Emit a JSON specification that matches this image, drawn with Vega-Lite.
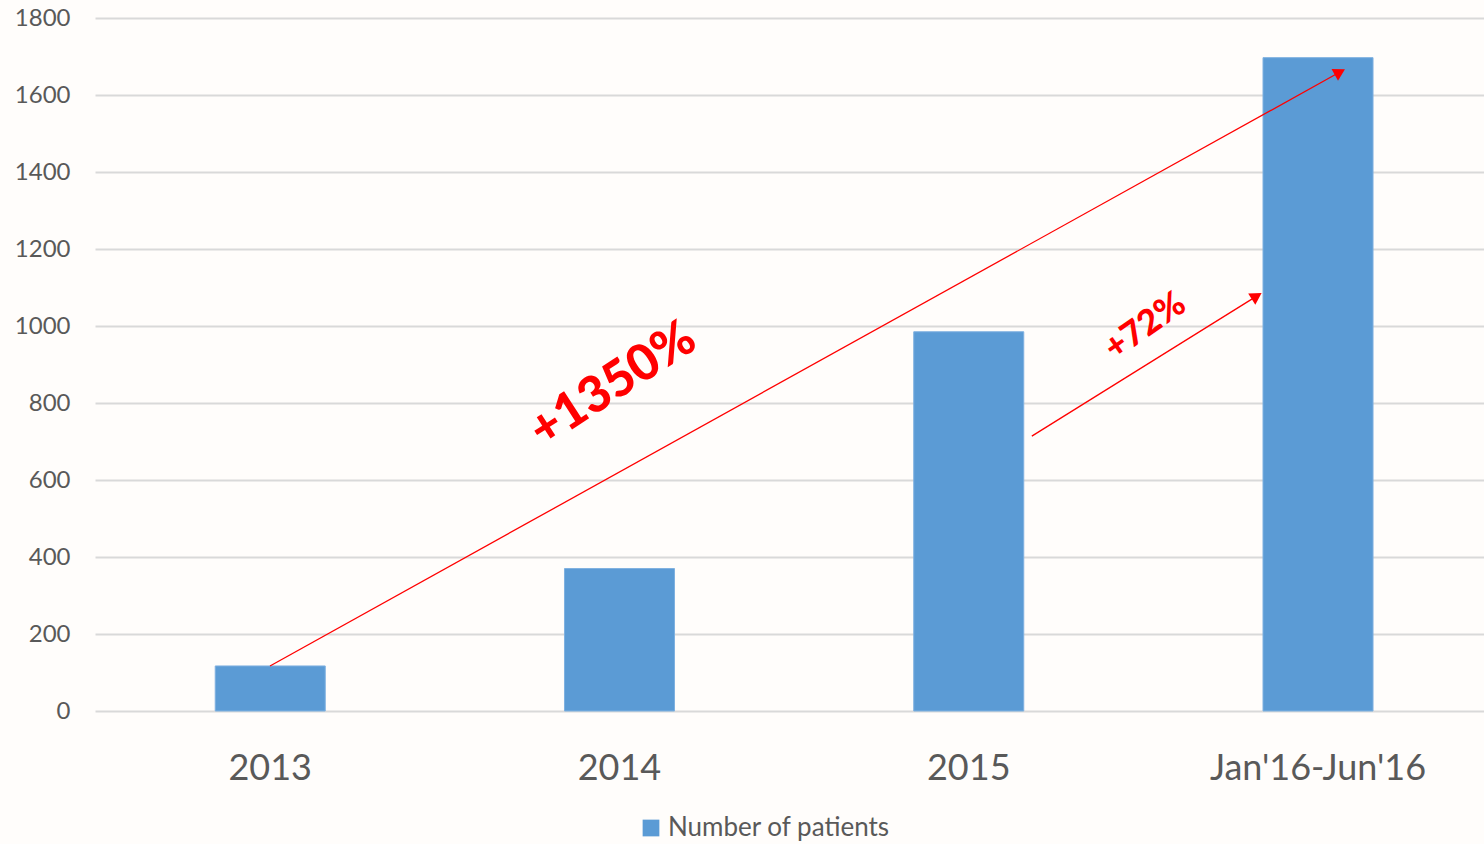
{
  "$schema": "https://vega.github.io/schema/vega-lite/v6.json",
  "autosize": {"type": "none"},
  "width": 1389,
  "height": 693,
  "padding": {"left": 95, "top": 18, "right": 0, "bottom": 133},
  "background": "#fffdfb",
  "config": {
    "view": {"stroke": null},
    "font": "Lato",
    "axis": {"labelColor": "#595959", "labelFont": "Lato"},
    "legend": {"labelColor": "#595959", "labelFont": "Lato"}
  },
  "datasets": {
    "bars": [
      {"period": "2013", "patients": 117, "series": "Number of patients"},
      {"period": "2014", "patients": 370, "series": "Number of patients"},
      {"period": "2015", "patients": 985, "series": "Number of patients"},
      {"period": "Jan'16-Jun'16", "patients": 1697, "series": "Number of patients"}
    ],
    "arrows": [
      {"name": "total", "x1": 0, "y1": 117, "x2": 3.058, "y2": 1657},
      {"name": "last", "x1": 2.181, "y1": 714, "x2": 2.82, "y2": 1075}
    ],
    "labels": [
      {"name": "total", "label": "+1350%", "x": 0.982, "y": 847},
      {"name": "last", "label": "+72%", "x": 2.505, "y": 1000}
    ]
  },
  "resolve": {"scale": {"x": "independent"}},
  "layer": [
    {
      "data": {"name": "bars"},
      "mark": {"type": "bar", "stroke": "#7fb1e0", "strokeWidth": 1},
      "encoding": {
        "x": {
          "field": "period", "type": "nominal", "sort": null,
          "scale": {"paddingInner": 0.685, "paddingOuter": 0.331, "align": 0.52},
          "axis": {"title": null, "labelAngle": 0, "labelFontSize": 36, "labelPadding": 40, "labelLimit": 500, "domain": false, "ticks": false, "grid": false}
        },
        "y": {
          "field": "patients", "type": "quantitative",
          "scale": {"domain": [0, 1800], "nice": false},
          "axis": {"title": null, "format": "d", "values": [0, 200, 400, 600, 800, 1000, 1200, 1400, 1600, 1800], "labelFontSize": 24, "labelPadding": 25, "domain": false, "ticks": false, "gridColor": "#d9d9d9", "gridWidth": 2}
        },
        "color": {
          "field": "series", "type": "nominal",
          "scale": {"range": ["#5b9bd5"]},
          "legend": {"title": null, "orient": "none", "legendX": 543, "legendY": 797, "direction": "horizontal", "symbolType": "square", "symbolSize": 280, "symbolStrokeWidth": 0, "labelFontSize": 26, "labelLimit": 500}
        }
      }
    },
    {
      "data": {"name": "arrows"},
      "mark": {"type": "rule", "color": "#ff0000", "strokeWidth": 1.3},
      "encoding": {
        "x": {"field": "x1", "type": "quantitative", "scale": {"domain": [-0.501, 3.4755], "nice": false, "zero": false}, "axis": null},
        "y": {"field": "y1", "type": "quantitative"},
        "x2": {"field": "x2"},
        "y2": {"field": "y2"}
      }
    },
    {
      "data": {"name": "arrows"},
      "transform": [{"filter": "datum.name === 'total'"}],
      "mark": {"type": "point", "shape": "triangle", "filled": true, "color": "#ff0000", "size": 180, "opacity": 1, "angle": 61},
      "encoding": {
        "x": {"field": "x2", "type": "quantitative", "scale": {"domain": [-0.501, 3.4755], "nice": false, "zero": false}, "axis": null},
        "y": {"field": "y2", "type": "quantitative"}
      }
    },
    {
      "data": {"name": "arrows"},
      "transform": [{"filter": "datum.name === 'last'"}],
      "mark": {"type": "point", "shape": "triangle", "filled": true, "color": "#ff0000", "size": 180, "opacity": 1, "angle": 58},
      "encoding": {
        "x": {"field": "x2", "type": "quantitative", "scale": {"domain": [-0.501, 3.4755], "nice": false, "zero": false}, "axis": null},
        "y": {"field": "y2", "type": "quantitative"}
      }
    },
    {
      "data": {"name": "labels"},
      "transform": [{"filter": "datum.name === 'total'"}],
      "mark": {"type": "text", "color": "#ff0000", "fontWeight": 900, "fontSize": 50, "angle": -33, "align": "center", "baseline": "middle"},
      "encoding": {
        "x": {"field": "x", "type": "quantitative", "scale": {"domain": [-0.501, 3.4755], "nice": false, "zero": false}, "axis": null},
        "y": {"field": "y", "type": "quantitative"},
        "text": {"field": "label"}
      }
    },
    {
      "data": {"name": "labels"},
      "transform": [{"filter": "datum.name === 'last'"}],
      "mark": {"type": "text", "color": "#ff0000", "fontWeight": 900, "fontSize": 35, "angle": -35, "align": "center", "baseline": "middle"},
      "encoding": {
        "x": {"field": "x", "type": "quantitative", "scale": {"domain": [-0.501, 3.4755], "nice": false, "zero": false}, "axis": null},
        "y": {"field": "y", "type": "quantitative"},
        "text": {"field": "label"}
      }
    }
  ]
}
